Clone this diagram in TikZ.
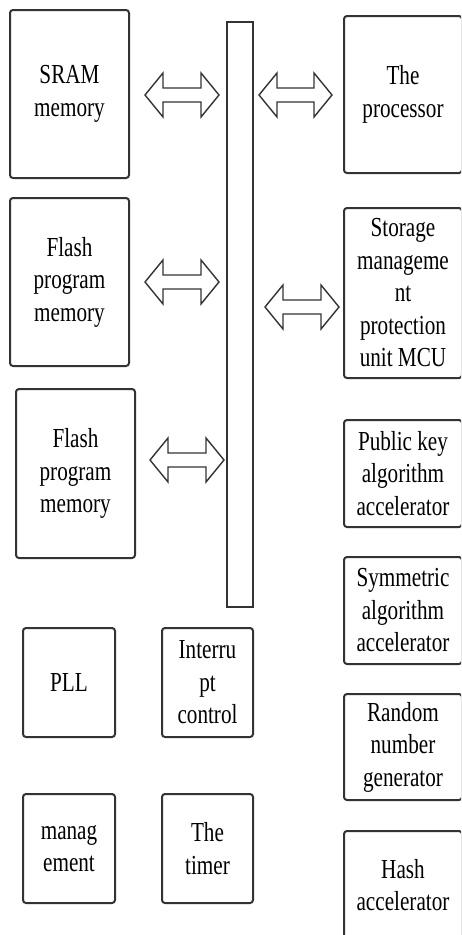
\documentclass[tikz,border=0pt]{standalone}
\usepackage{fontspec}
\setmainfont[FakeStretch=0.77]{Liberation Serif}
\usetikzlibrary{calc}
\newcommand\dblarrow[2]{\draw[blockarrow] let \p1=#1, \p2=#2 in (\x1,\y1) -- (\x1+18pt,\y1+22pt) -- (\x1+18pt,\y1+7pt) -- (\x2-18pt,\y1+7pt) -- (\x2-18pt,\y1+22pt) -- (\x2,\y1) -- (\x2-18pt,\y1-22pt) -- (\x2-18pt,\y1-7pt) -- (\x1+18pt,\y1-7pt) -- (\x1+18pt,\y1-22pt) -- cycle;}

\begin{document}
\begin{tikzpicture}[x=1pt,y=-1pt,
		box/.style={draw=black!80, line width=2pt, rounded corners=3pt, align=center, inner sep=0pt, font=\fontsize{27.5}{32.5}\selectfont},
		blockarrow/.style={draw=black!80, line width=1.4pt, line join=miter}]
		%%%%% START %%%%%
		\clip (0,0) rectangle (461,935);
		
		\node[box, minimum width=119pt, minimum height=168pt] (sram) at (69.5,94) {SRAM\\memory};
		\node[box, minimum width=119pt, minimum height=168pt] (flasha) at (69.5,282) {Flash\\program\\memory};
		\node[box, minimum width=119pt, minimum height=169pt] (flashb) at (75.5,473.5) {Flash\\program\\memory};
		
		\node[box, rounded corners=0pt, minimum width=26pt, minimum height=585pt] (bus) at (240,314.5) {};
		
		\node[box, minimum width=118pt, minimum height=157pt] (cpu) at (403,94.5) {The\\processor};
		\node[box, minimum width=118pt, minimum height=170pt] (mpu) at (403,293) {Storage\\manageme\\nt\\protection\\unit MCU};
		\node[box, minimum width=118pt, minimum height=107pt] (pubkey) at (403,473.5) {Public key\\algorithm\\accelerator};
		\node[box, minimum width=118pt, minimum height=107pt] (symm) at (403,610.5) {Symmetric\\algorithm\\accelerator};
		\node[box, minimum width=118pt, minimum height=106pt] (rng) at (403,747) {Random\\number\\generator};
		\node[box, minimum width=118pt, minimum height=108pt] (hash) at (403,885) {Hash\\accelerator};
		
		\node[box, minimum width=92pt, minimum height=109pt] (pll) at (69,682.5) {PLL};
		\node[box, minimum width=91pt, minimum height=109pt] (intr) at (207.5,682.5) {Interru\\pt\\control};
		\node[box, minimum width=92pt, minimum height=109pt] (mgmt) at (69,848.5) {manag\\ement};
		\node[box, minimum width=91pt, minimum height=109pt] (timer) at (207.5,848.5) {The\\timer};
		
		\dblarrow{($(sram.east)+(15,1)$)}{($(bus.west |- sram.east)+(-7,1)$)}
		\dblarrow{($(bus.east |- sram.east)+(5,1)$)}{($(cpu.west |- sram.east)+(-11,1)$)}
		\dblarrow{($(flasha.east)+(15,0)$)}{($(bus.west |- flasha.east)+(-7,0)$)}
		\dblarrow{($(bus.east |- mpu.west)+(11,14)$)}{($(mpu.west)+(-4,14)$)}
		\dblarrow{($(flashb.east)+(14,-13.5)$)}{($(bus.west |- flashb.east)+(-2,-13.5)$)}
		%%%%% END %%%%%
\end{tikzpicture}
\end{document}
